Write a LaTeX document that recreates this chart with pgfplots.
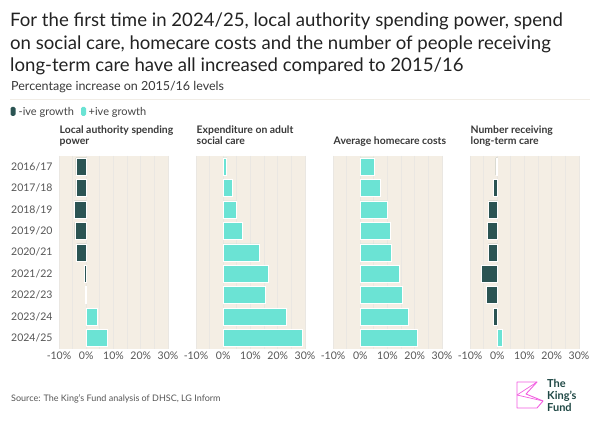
\documentclass[border=0pt]{standalone}
\usepackage{fontspec}
\setmainfont{Lato}
\usepackage{pgfplots}
\pgfplotsset{compat=1.18}
\definecolor{negc}{HTML}{2B5453}
\definecolor{posc}{HTML}{6BE3D4}
\definecolor{bgc}{HTML}{F4EEE4}
\definecolor{gridc}{HTML}{EAE7E2}
\definecolor{tickc}{HTML}{555555}
\definecolor{titc}{HTML}{222222}
\definecolor{kpink}{HTML}{F25CE0}
\definecolor{klogo}{HTML}{1F4845}
\definecolor{sepc}{HTML}{F1EDE6}

\pgfplotsset{panel/.style={
  scale only axis, width=109pt, height=193.3pt,
  xbar, bar width=17pt, bar shift=0pt,
  xmin=-10, xmax=30, ymin=-0.5, ymax=8.5, y dir=reverse,
  xtick={-10,0,10,20,30}, xticklabels={-10\%,0\%,10\%,20\%,30\%},
  minor xtick={-5,5,15,25},
  ytick={0,...,8}, yticklabels={},
  axis background/.style={fill=bgc},
  axis line style={draw=none},
  major tick length=0pt, minor tick length=0pt,
  xmajorgrids, xminorgrids,
  major grid style={gridc, line width=0.8pt},
  minor grid style={gridc, line width=0.8pt},
  tick label style={font=\fontsize{10.5}{12}\selectfont, text=tickc},
  yticklabel style={xshift=-3pt},
  xticklabel style={yshift=1pt},
  anchor=north west,
  clip=false,
}}
\tikzset{negbar/.style={fill=negc, draw=white, line width=0.6pt},
         posbar/.style={fill=posc, draw=white, line width=0.6pt}}

\begin{document}
\begin{tikzpicture}[x=1pt,y=1pt]
\useasboundingbox (0,0) rectangle (602,436);
% titles
\begin{scope}[every node/.style={anchor=base west, inner sep=0pt, text=titc, font=\fontsize{18.6}{22}\selectfont}]
\node at (10,409) {For the first time in 2024/25, local authority spending power, spend};
\node at (10,386.5) {on social care, homecare costs and the number of people receiving};
\node at (10,364) {long-term care have all increased compared to 2015/16};
\end{scope}
\node[anchor=base west, inner sep=0pt, text=titc!90, font=\fontsize{12.5}{14}\selectfont] at (11,345.5) {Percentage increase on 2015/16 levels};
\draw[sepc, line width=0.8pt] (10,336.7) -- (590,336.7);
% legend
\fill[negc, rounded corners=1.5pt] (10.5,320) rectangle (15.5,329);
\node[anchor=base west, inner sep=0pt, text=titc!85, font=\fontsize{11}{13}\selectfont] at (18.5,320.5) {-ive growth};
\fill[posc, rounded corners=1.5pt] (81,320) rectangle (86,329);
\node[anchor=base west, inner sep=0pt, text=titc!85, font=\fontsize{11}{13}\selectfont] at (88.5,320.5) {+ive growth};
% panel titles
\begin{scope}[every node/.style={anchor=base west, inner sep=0pt, text=titc!90, font=\fontsize{10.4}{12}\bfseries\selectfont}]
\node at (59.5,302) {Local authority spending};
\node at (59.5,291) {power};
\node at (196.5,302) {Expenditure on adult};
\node at (196.5,291) {social care};
\node at (333.5,291) {Average homecare costs};
\node at (470.5,302) {Number receiving};
\node at (470.5,291) {long-term care};
\end{scope}

% panel 1
\begin{axis}[panel, at={(59pt,280.3pt)},
  yticklabels={2016/17,2017/18,2018/19,2019/20,2020/21,2021/22,2022/23,2023/24,2024/25}]
\addplot[negbar] coordinates {(-3.8,0) (-3.8,1) (-4.4,2) (-4.2,3) (-3.5,4) (-0.8,5) (-0.2,6)};
\addplot[posbar] coordinates {(4.1,7) (7.9,8)};
\end{axis}
% panel 2
\begin{axis}[panel, at={(196pt,280.3pt)}]
\addplot[posbar] coordinates {(1.3,0) (3.2,1) (4.9,2) (6.9,3) (13.3,4) (16.7,5) (15.3,6) (23.2,7) (29.1,8)};
\end{axis}
% panel 3
\begin{axis}[panel, at={(333pt,280.3pt)}]
\addplot[posbar] coordinates {(5.1,0) (7.2,1) (9.9,2) (11.1,3) (11.4,4) (14.3,5) (15.6,6) (17.5,7) (21.1,8)};
\end{axis}
% panel 4
\begin{axis}[panel, at={(470pt,280.3pt)}]
\addplot[negbar] coordinates {(-0.5,0) (-1.4,1) (-3.2,2) (-3.5,3) (-3.3,4) (-5.9,5) (-4.0,6) (-1.4,7)};
\addplot[posbar] coordinates {(1.8,8)};
\end{axis}

% source
\node[anchor=base west, inner sep=0pt, text=tickc, font=\fontsize{9}{11}\selectfont] at (11,34) {Source: The King's Fund analysis of DHSC, LG Inform};
% logo
\draw[kpink, line width=0.9pt, line join=round]
  (517,54) -- (537,54) -- (526,42) -- (543,35) -- (537,28) -- (517,28) -- cycle;
\draw[kpink, line width=0.7pt] (517,41) -- (537,54);
\draw[kpink, line width=0.7pt] (517,41) -- (543,35);
\begin{scope}[every node/.style={anchor=base west, inner sep=0pt, text=klogo, font=\fontsize{11}{12}\bfseries\selectfont}]
\node at (547,48) {The};
\node at (547,36) {King's};
\node at (547,24) {Fund};
\end{scope}
\end{tikzpicture}
\end{document}
